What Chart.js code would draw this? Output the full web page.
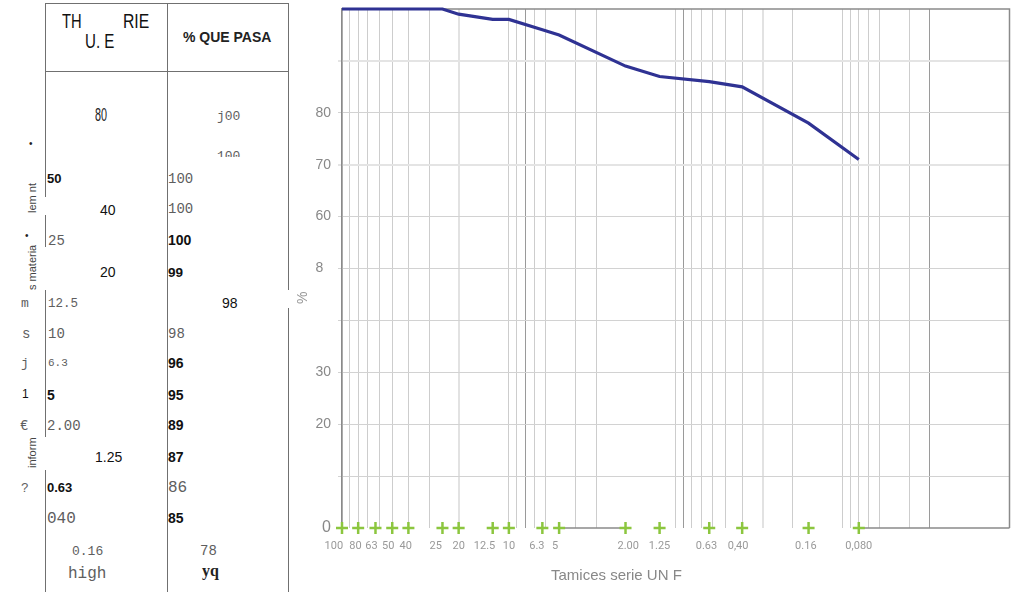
<!DOCTYPE html>
<html lang="es">
<head>
<meta charset="utf-8">
<title>Curva granulométrica</title>
<script src="https://cdn.jsdelivr.net/npm/chart.js@4.4.1/dist/chart.umd.min.js"></script>
<style>
  html, body { margin: 0; padding: 0; background: #fff; }
  body { width: 1018px; height: 595px; position: relative; overflow: hidden;
         font-family: "Liberation Sans", Arial, sans-serif; }
  .ln { position: absolute; background: #707070; }
  .t { position: absolute; line-height: 1; white-space: nowrap; }
  .mono { font-family: "Liberation Mono", "DejaVu Sans Mono", monospace; color: #5e5e5e; }
  .sans { color: #111; }
  .b { font-weight: bold; }
  .nar { transform-origin: 0 0; }
  .rot { position: absolute; transform-origin: 0 0; transform: rotate(-90deg);
         font-size: 11px; color: #444; line-height: 1; white-space: nowrap; }
  #wrap { position: absolute; left: 290px; top: 0; width: 728px; height: 595px; }
</style>
</head>
<body>

<!-- tabla de tamices (lineas) -->
<div class="ln" style="left:45px;top:3px;width:243px;height:1px;"></div>
<div class="ln" style="left:45px;top:71px;width:243px;height:1px;"></div>
<div class="ln" style="left:45px;top:3px;width:1px;height:194px;"></div>
<div class="ln" style="left:45px;top:215px;width:1px;height:32px;"></div>
<div class="ln" style="left:45px;top:290px;width:1px;height:147px;"></div>
<div class="ln" style="left:45px;top:470px;width:1px;height:122px;"></div>
<div class="ln" style="left:167px;top:3px;width:1px;height:589px;"></div>
<div class="ln" style="left:288px;top:3px;width:1px;height:287px;"></div>
<div class="ln" style="left:288px;top:308px;width:1px;height:284px;"></div>

<!-- cabecera -->
<div class="t nar" style="left:62px;top:10px;font-size:21px;transform:scaleX(0.7);color:#111;">TH</div>
<div class="t nar" style="left:85px;top:30px;font-size:21px;transform:scaleX(0.72);color:#111;">U. E</div>
<div class="t nar" style="left:123px;top:10px;font-size:21px;transform:scaleX(0.75);color:#111;">RIE</div>
<div class="t b" style="left:183px;top:30px;font-size:14px;color:#222;">% QUE PASA</div>

<!-- textos laterales -->
<div class="t" style="left:29px;top:139px;font-size:10px;color:#222;">•</div>
<div class="rot" style="left:27px;top:213px;">lem nt</div>
<div class="t" style="left:25px;top:231px;font-size:10px;color:#222;">•</div>
<div class="rot" style="left:27px;top:290px;">s materia</div>
<div class="rot" style="left:27px;top:468px;">inform</div>
<div class="t mono" style="left:21px;top:297px;font-size:13px;">m</div>
<div class="t mono" style="left:22px;top:327px;font-size:14px;">s</div>
<div class="t mono" style="left:21px;top:357px;font-size:13px;">j</div>
<div class="t sans" style="left:22px;top:388px;font-size:12px;">1</div>
<div class="t mono" style="left:20px;top:419px;font-size:14px;">€</div>
<div class="t mono" style="left:21px;top:482px;font-size:13px;">?</div>

<!-- filas -->
<div class="t nar" style="left:95px;top:106px;font-size:18px;transform:scaleX(0.6);color:#222;">80</div>
<div class="t mono" style="left:217px;top:110px;font-size:13px;">j00</div>
<div style="position:absolute;left:217px;top:150px;width:30px;height:7px;overflow:hidden;">
  <div class="t mono" style="left:0;top:0;font-size:13px;">100</div>
</div>
<div class="t sans b" style="left:47px;top:172px;font-size:13px;">50</div>
<div class="t mono" style="left:168px;top:172px;font-size:14px;">100</div>
<div class="t sans" style="left:100px;top:203px;font-size:14px;">40</div>
<div class="t mono" style="left:168px;top:202px;font-size:14px;">100</div>
<div class="t mono" style="left:48px;top:234px;font-size:14px;">25</div>
<div class="t sans b" style="left:168px;top:233px;font-size:14px;">100</div>
<div class="t sans" style="left:100px;top:265px;font-size:14px;">20</div>
<div class="t sans b" style="left:168px;top:266px;font-size:13.5px;">99</div>
<div class="t mono" style="left:48px;top:298px;font-size:12.5px;">12.5</div>
<div class="t sans" style="left:222px;top:296px;font-size:14px;">98</div>
<div class="t mono" style="left:48px;top:327px;font-size:14px;">10</div>
<div class="t mono" style="left:168px;top:327px;font-size:14px;">98</div>
<div class="t mono" style="left:48px;top:358px;font-size:11px;">6.3</div>
<div class="t sans b" style="left:168px;top:356px;font-size:14px;">96</div>
<div class="t sans b" style="left:47px;top:388px;font-size:14px;">5</div>
<div class="t sans b" style="left:168px;top:388px;font-size:14px;">95</div>
<div class="t mono" style="left:47px;top:419px;font-size:14px;">2.00</div>
<div class="t sans b" style="left:168px;top:418px;font-size:14px;">89</div>
<div class="t sans" style="left:95px;top:450px;font-size:14px;">1.25</div>
<div class="t sans b" style="left:168px;top:450px;font-size:14px;">87</div>
<div class="t sans b" style="left:47px;top:481px;font-size:13px;">0.63</div>
<div class="t mono" style="left:168px;top:480px;font-size:16px;">86</div>
<div class="t mono" style="left:47px;top:511px;font-size:16px;">040</div>
<div class="t sans b" style="left:168px;top:511px;font-size:14px;">85</div>
<div class="t mono" style="left:72px;top:545px;font-size:13px;">0.16</div>
<div class="t mono" style="left:200px;top:544px;font-size:14px;">78</div>
<div class="t mono" style="left:68px;top:566px;font-size:16px;">high</div>
<div class="t b" style="left:202px;top:563px;font-size:16px;font-family:'Liberation Serif',serif;color:#222;">yq</div>

<!-- grafico -->
<div id="wrap"><canvas id="chart"></canvas></div>
<div class="rot" style="left:295px;top:304px;font-size:14px;color:#999;">%</div>
<div class="t" style="left:551px;top:567px;font-size:15px;color:#888;">Tamices serie UN F</div>

<script>
// tamices (mm) y % que pasa
const SIEVES        = [100, 80, 63, 50, 40, 25, 20, 12.5, 10, 6.3, 5, 2, 1.25, 0.63, 0.4, 0.16, 0.08];
const SIEVE_LABELS  = ['100      ', '80  ', '63   ', '50   ', '40  ', '25     ', '20', '12.5      ', '10', '6.3    ', '5   ', '  2.00', '1.25', '0.63  ', '0,40   ', '0.16  ', '0,080'];
const PASSING       = [100, 100, 100, 100, 100, 100, 99, 98, 98, 96, 95, 89, 87, 86, 85, 78, 71];

// rejilla logaritmica vertical
const GRID_X        = [100, 90, 80, 70, 60, 50, 40, 30, 20, 10, 9, 8, 7, 6, 4, 3, 1, 0.9, 0.8, 0.7, 0.6, 0.5, 0.4, 0.3, 0.2, 0.1, 0.09, 0.08, 0.07, 0.06, 0.04, 0.03];
const GRID_X_DARK   = [8, 0.9, 0.03];
const GRID_X_LIGHT  = [20, 0.3];

// eje Y
const Y_TICK_VALUES = [0, 20, 30, 50, 60, 70, 80];
const Y_TICK_LABELS = ['0', '20', '30', '8  ', '60', '70', '80'];

const xTicks = [...new Set([...GRID_X, ...SIEVES])].sort((a, b) => b - a);

const framePlugin = {
  id: 'frame',
  beforeDatasetsDraw(chart) {
    const { ctx, chartArea: a, scales: { x } } = chart;
    ctx.save();
    ctx.strokeStyle = '#8a8a8a';
    ctx.lineWidth = 1.5;
    ctx.beginPath();
    ctx.moveTo(a.left, a.top);
    ctx.lineTo(a.right, a.top);
    ctx.lineTo(a.right, a.bottom);
    ctx.moveTo(x.getPixelForValue(SIEVES[10]), a.bottom);
    ctx.lineTo(x.getPixelForValue(SIEVES[11]), a.bottom);
    ctx.moveTo(x.getPixelForValue(SIEVES[16]), a.bottom);
    ctx.lineTo(a.right, a.bottom);
    ctx.stroke();
    ctx.restore();
  }
};

new Chart(document.getElementById('chart'), {
  type: 'line',
  data: {
    datasets: [
      {
        label: '% que pasa',
        data: SIEVES.map((s, i) => ({ x: s, y: PASSING[i] })),
        borderColor: '#2f3293',
        borderWidth: 3.2,
        pointRadius: 0,
        tension: 0,
        clip: 6,
        order: 1,
      },
      {
        label: 'Tamices',
        data: SIEVES.map(s => ({ x: s, y: 0 })),
        showLine: false,
        pointStyle: 'cross',
        pointRadius: 6,
        borderColor: '#8cc63f',
        borderWidth: 2.5,
        clip: false,
        order: 0,
      },
    ],
  },
  options: {
    responsive: true,
    maintainAspectRatio: false,
    animation: false,
    layout: { padding: { top: 9, right: 7, left: 0, bottom: 0 } },
    plugins: { legend: { display: false }, tooltip: { enabled: false } },
    scales: {
      x: {
        type: 'logarithmic',
        reverse: true,
        min: 0.01,
        max: 100,
        afterBuildTicks: s => { s.ticks = xTicks.map(v => ({ value: v })); },
        afterFit: s => { s.height = 67; s.paddingLeft = 0; s.paddingRight = 0; },
        border: { display: false },
        grid: {
          drawTicks: false,
          color: c => {
            const v = c.tick && c.tick.value;
            if (!GRID_X.includes(v)) return 'rgba(0,0,0,0)';
            if (GRID_X_DARK.includes(v)) return '#9a9a9a';
            if (GRID_X_LIGHT.includes(v)) return '#e2e2e2';
            return '#cdcdcd';
          },
          lineWidth: c => (GRID_X_LIGHT.includes(c.tick && c.tick.value) ? 2 : 1),
        },
        ticks: {
          autoSkip: false,
          maxRotation: 0,
          minRotation: 0,
          padding: 12,
          color: '#999',
          font: { family: 'Roboto', size: 11 },
          callback: v => {
            const i = SIEVES.indexOf(v);
            return i < 0 ? '' : SIEVE_LABELS[i];
          },
        },
      },
      y: {
        min: 0,
        max: 100,
        ticks: {
          stepSize: 10,
          padding: 7,
          color: '#888',
          font: c => ({ family: 'Liberation Sans', size: c.tick && c.tick.value === 0 ? 16 : 14 }),
          callback: v => {
            const i = Y_TICK_VALUES.indexOf(v);
            return i < 0 ? '' : Y_TICK_LABELS[i];
          },
        },
        afterFit: s => { s.width = 52; s.paddingTop = 0; s.paddingBottom = 0; },
        border: { color: '#8a8a8a', width: 1.5 },
        grid: {
          tickLength: 4,
          color: c => {
            const v = c.tick && c.tick.value;
            if (v === 0 || v === 100) return 'rgba(0,0,0,0)';
            if (v === 90 || v === 70) return '#e4e4e4';
            return '#d2d2d2';
          },
          lineWidth: c => ((c.tick && (c.tick.value === 90 || c.tick.value === 70)) ? 2 : 1),
        },
      },
    },
  },
  plugins: [framePlugin],
});
</script>
</body>
</html>
